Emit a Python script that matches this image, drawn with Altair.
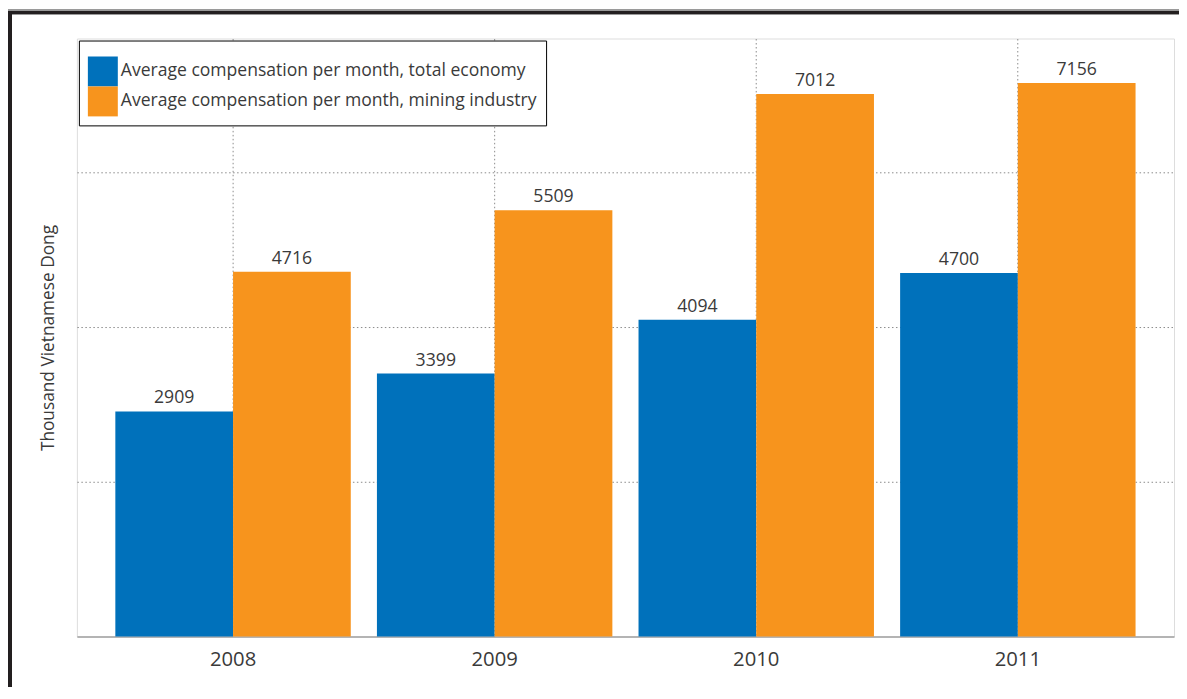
import altair as alt
import pandas as pd

years = ["2008", "2009", "2010", "2011"]
series = ["Average compensation per month, total economy",
          "Average compensation per month, mining industry"]
total_economy = [2909, 3399, 4094, 4700]
mining_industry = [4716, 5509, 7012, 7156]

rows = []
for i, y in enumerate(years):
    rows.append({"year": y, "series": series[0], "value": total_economy[i]})
    rows.append({"year": y, "series": series[1], "value": mining_industry[i]})
df = pd.DataFrame(rows)

FONT = "Open Sans"
TXT = "#3a3a3a"
GRID = "#8c8c8c"

x = alt.X("year:N", title=None, sort=years,
          scale=alt.Scale(paddingInner=0.1, paddingOuter=0.147),
          axis=alt.Axis(labelAngle=0, labelFontSize=20.3, labelColor=TXT, labelFont=FONT,
                        ticks=False, labelPadding=13, grid=True, gridColor=GRID,
                        gridDash=[1.5, 2.5], gridWidth=1, domainColor="#a0a0a0", domainWidth=1.5,
                        bandPosition=0.5))
y = alt.Y("value:Q", title="Thousand Vietnamese Dong",
          scale=alt.Scale(domain=[0, 7730], nice=False),
          axis=alt.Axis(values=[2000, 4000, 6000], labels=False, ticks=False, domain=False,
                        gridColor=GRID, gridDash=[1.5, 2.5], gridWidth=1,
                        titleFontSize=17.3, titleColor=TXT, titleFont=FONT,
                        titleFontWeight="normal", titlePadding=19))
color = alt.Color("series:N", sort=series,
                  scale=alt.Scale(domain=series, range=["#0071bb", "#f7941d"]),
                  legend=alt.Legend(title=" ", titleFontSize=1, titlePadding=6,
                                    orient="none", legendX=2, legendY=2,
                                    symbolType="square", symbolSize=900, symbolStrokeWidth=0,
                                    symbolOpacity=1,
                                    labelFontSize=17.6, labelColor=TXT, labelFont=FONT,
                                    labelOffset=3, rowPadding=0, padding=9,
                                    strokeColor="black", fillColor="white",
                                    labelLimit=600))
xo = alt.XOffset("series:N", sort=series)

bars = alt.Chart(df).mark_bar().encode(x=x, y=y, color=color, xOffset=xo)
labels = alt.Chart(df).mark_text(baseline="bottom", dy=-4, fontSize=17.7, color=TXT,
                                 font=FONT).encode(
    x=alt.X("year:N", sort=years), y="value:Q", xOffset=xo, text="value:Q")

frame_top_g = alt.Chart(df).mark_rule(color="#999999", strokeWidth=5).encode(
    x=alt.value(-70), x2=alt.value(1120), y=alt.value(-26.5))
frame_left_g = alt.Chart(df).mark_rule(color="#999999", strokeWidth=5).encode(
    x=alt.value(-67.5), y=alt.value(-29), y2=alt.value(700))
frame_top = alt.Chart(df).mark_rule(color="#231f20", strokeWidth=3).encode(
    x=alt.value(-69), x2=alt.value(1120), y=alt.value(-26))
frame_left = alt.Chart(df).mark_rule(color="#231f20", strokeWidth=3).encode(
    x=alt.value(-67), y=alt.value(-27.5), y2=alt.value(700))

chart = alt.layer(frame_top_g, frame_left_g, frame_top, frame_left, bars, labels).properties(
    width=1099, height=599,
    autosize=alt.AutoSizeParams(type="none"),
    padding={"left": 69, "top": 30, "right": 5, "bottom": 50},
).configure_view(stroke="#a0a0a0", strokeWidth=1.5).configure(background="white")

chart.save("out.html", embed_options={"renderer": "svg", "actions": False})
